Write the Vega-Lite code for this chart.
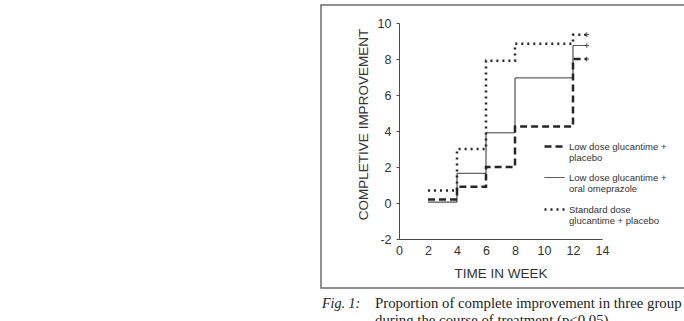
{
  "$schema": "https://vega.github.io/schema/vega-lite/v6.json",
  "width": 203,
  "height": 216,
  "autosize": {"type": "none"},
  "padding": {"left": 399, "top": 23, "right": 82, "bottom": 82},
  "background": "white",
  "config": {
    "view": {"stroke": null},
    "font": "Liberation Sans",
    "axis": {
      "grid": false,
      "domainColor": "#4a4a4a",
      "tickColor": "#4a4a4a",
      "labelColor": "#333333",
      "labelFont": "Liberation Sans",
      "labelFontSize": 12.5,
      "labelOverlap": false,
      "labelFlush": false,
      "labelExpr": "toString(datum.value)",
      "titleColor": "#333333",
      "titleFont": "Liberation Sans",
      "titleFontSize": 13.5,
      "titleFontWeight": "normal"
    }
  },
  "datasets": {
    "curves": [
      {"group": "Low dose glucantime + placebo", "week": 2, "improvement": 0.2, "censored": false},
      {"group": "Low dose glucantime + placebo", "week": 4, "improvement": 0.9, "censored": false},
      {"group": "Low dose glucantime + placebo", "week": 6, "improvement": 2.0, "censored": false},
      {"group": "Low dose glucantime + placebo", "week": 8, "improvement": 4.25, "censored": false},
      {"group": "Low dose glucantime + placebo", "week": 12, "improvement": 8.0, "censored": false},
      {"group": "Low dose glucantime + placebo", "week": 12.95, "improvement": 8.0, "censored": true},
      {"group": "Low dose glucantime + oral omeprazole", "week": 2, "improvement": 0.05, "censored": false},
      {"group": "Low dose glucantime + oral omeprazole", "week": 4, "improvement": 1.65, "censored": false},
      {"group": "Low dose glucantime + oral omeprazole", "week": 6, "improvement": 3.9, "censored": false},
      {"group": "Low dose glucantime + oral omeprazole", "week": 8, "improvement": 6.95, "censored": false},
      {"group": "Low dose glucantime + oral omeprazole", "week": 12, "improvement": 8.75, "censored": false},
      {"group": "Low dose glucantime + oral omeprazole", "week": 12.95, "improvement": 8.75, "censored": true},
      {"group": "Standard dose glucantime + placebo", "week": 2, "improvement": 0.7, "censored": false},
      {"group": "Standard dose glucantime + placebo", "week": 4, "improvement": 3.0, "censored": false},
      {"group": "Standard dose glucantime + placebo", "week": 6, "improvement": 7.9, "censored": false},
      {"group": "Standard dose glucantime + placebo", "week": 8, "improvement": 8.85, "censored": false},
      {"group": "Standard dose glucantime + placebo", "week": 12, "improvement": 9.35, "censored": false},
      {"group": "Standard dose glucantime + placebo", "week": 12.95, "improvement": 9.35, "censored": true}
    ]
  },
  "layer": [
    {
      "data": {"name": "curves"},
      "mark": {"type": "line", "interpolate": "step-after", "strokeCap": "butt", "color": "#262626"},
      "encoding": {
        "x": {
          "field": "week",
          "type": "quantitative",
          "scale": {"domain": [0, 14], "nice": false, "zero": false},
          "axis": {
            "title": "TIME IN WEEK",
            "values": [0, 2, 4, 6, 8, 10, 12, 14],
            "tickCount": 20,
            "labelOverlap": false,
            "labelFlush": false,
            "labelExpr": "toString(datum.value)",
            "tickSize": 0,
            "labelPadding": 5,
            "titlePadding": 10
          }
        },
        "y": {
          "field": "improvement",
          "type": "quantitative",
          "scale": {"domain": [-2, 10], "nice": false, "zero": false},
          "axis": {
            "title": "COMPLETIVE  IMPROVEMENT",
            "values": [-2, 0, 2, 4, 6, 8, 10],
            "tickCount": 20,
            "labelOverlap": false,
            "labelFlush": false,
            "labelExpr": "toString(datum.value)",
            "tickSize": 3,
            "labelPadding": 5,
            "titlePadding": 7,
            "titleY": 101
          }
        },
        "strokeDash": {
          "field": "group",
          "type": "nominal",
          "scale": {
            "type": "ordinal",
            "domain": ["Low dose glucantime + placebo", "Low dose glucantime + oral omeprazole", "Standard dose glucantime + placebo"],
            "range": [[7, 4], [1, 0], [2, 4]]
          },
          "legend": {
            "title": null,
            "orient": "none",
            "legendX": 144,
            "legendY": 112,
            "padding": 0,
            "symbolType": "stroke",
            "symbolSize": 400,
            "symbolStrokeColor": "#262626",
            "labelFont": "Liberation Sans",
            "labelFontSize": 9.5,
            "labelColor": "#333333",
            "labelOffset": 3,
            "labelLimit": 300,
            "rowPadding": 4,
            "labelExpr": "datum.label == 'Standard dose glucantime + placebo' ? ['Standard dose', 'glucantime + placebo'] : ['Low dose glucantime +', replace(datum.label, 'Low dose glucantime + ', '')]"
          }
        },
        "strokeWidth": {
          "field": "group",
          "type": "nominal",
          "scale": {
            "type": "ordinal",
            "domain": ["Low dose glucantime + placebo", "Low dose glucantime + oral omeprazole", "Standard dose glucantime + placebo"],
            "range": [2.5, 1, 2.5]
          },
          "legend": {
            "title": null,
            "orient": "none",
            "legendX": 144,
            "legendY": 112,
            "padding": 0,
            "symbolType": "stroke",
            "symbolSize": 400,
            "symbolStrokeColor": "#262626",
            "labelFont": "Liberation Sans",
            "labelFontSize": 9.5,
            "labelColor": "#333333",
            "labelOffset": 3,
            "labelLimit": 300,
            "rowPadding": 4,
            "labelExpr": "datum.label == 'Standard dose glucantime + placebo' ? ['Standard dose', 'glucantime + placebo'] : ['Low dose glucantime +', replace(datum.label, 'Low dose glucantime + ', '')]"
          }
        }
      }
    },
    {
      "description": "Censoring marks at end of follow-up",
      "data": {"name": "curves"},
      "transform": [{"filter": "datum.censored"}],
      "mark": {"type": "point", "shape": "M-1,0L1,0M0,-1L0,1", "size": 22, "filled": false, "stroke": "#262626", "strokeWidth": 1.2},
      "encoding": {
        "x": {"field": "week", "type": "quantitative"},
        "y": {"field": "improvement", "type": "quantitative"}
      }
    },
    {
      "description": "Figure frame",
      "data": {"values": [{}]},
      "mark": {"type": "rect", "fill": null, "stroke": "#6e6e6e", "strokeWidth": 1.5, "clip": false},
      "encoding": {
        "x": {"datum": -5.38, "type": "quantitative"},
        "x2": {"datum": 21},
        "y": {"datum": 11.0, "type": "quantitative"},
        "y2": {"datum": -4.72}
      }
    },
    {
      "description": "Figure caption label",
      "data": {"values": [{}]},
      "mark": {"type": "text", "align": "left", "baseline": "alphabetic", "font": "Liberation Serif", "fontSize": 14, "fontStyle": "italic", "color": "#222222", "clip": false},
      "encoding": {
        "x": {"datum": -5.31, "type": "quantitative"},
        "y": {"datum": -5.83, "type": "quantitative"},
        "text": {"value": "Fig. 1:"}
      }
    },
    {
      "description": "Figure caption text",
      "data": {"values": [{}]},
      "mark": {"type": "text", "align": "left", "baseline": "alphabetic", "font": "Liberation Serif", "fontSize": 14.8, "lineHeight": 17, "color": "#222222", "clip": false},
      "encoding": {
        "x": {"datum": -1.655, "type": "quantitative"},
        "y": {"datum": -5.83, "type": "quantitative"},
        "text": {"value": ["Proportion of complete improvement in three group", "during the course of treatment (p<0.05)"]}
      }
    }
  ]
}
